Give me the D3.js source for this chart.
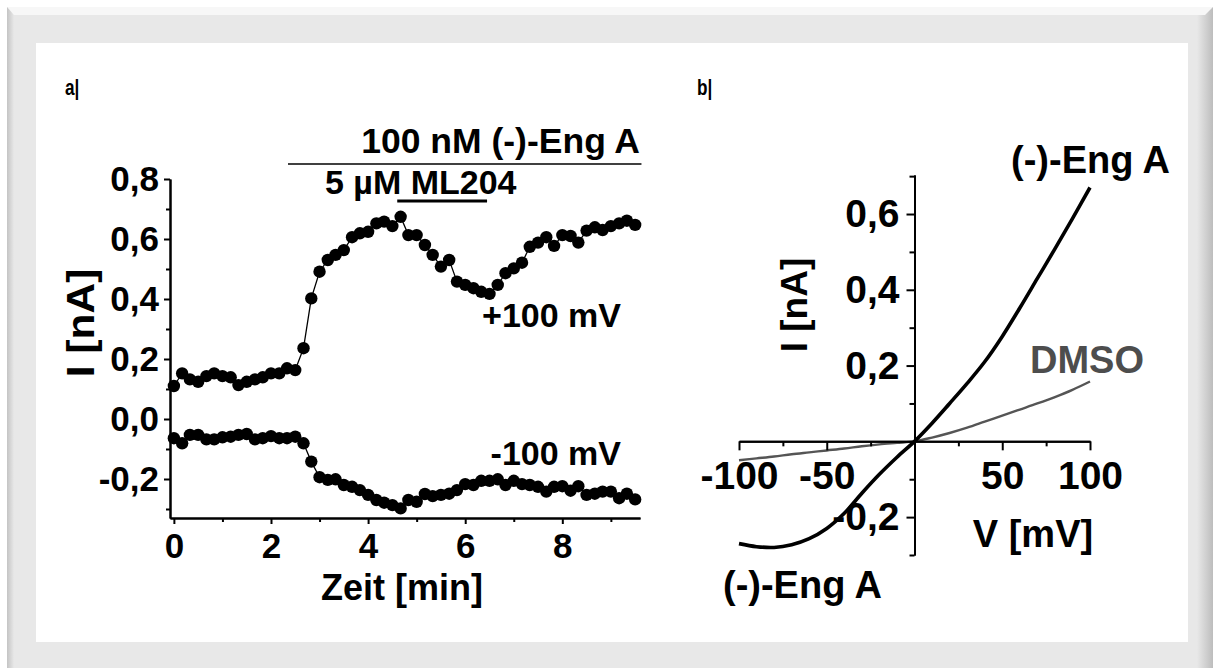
<!DOCTYPE html>
<html>
<head>
<meta charset="utf-8">
<script src="https://cdn.jsdelivr.net/npm/d3@7"></script>
<style>
  html, body { margin: 0; padding: 0; background: #ffffff; }
  svg { display: block; }
  text { font-family: "Liberation Sans", Arial, Helvetica, sans-serif; font-weight: bold; fill: #000; }
</style>
</head>
<body>
<script>
// ---- Panel a: current over time at +100 mV and -100 mV ----
const timeMin = [0, 0.17, 0.33, 0.5, 0.67, 0.83, 1, 1.17, 1.33, 1.5, 1.67, 1.83, 2, 2.17, 2.33, 2.5, 2.67,
  2.83, 3, 3.17, 3.33, 3.5, 3.67, 3.83, 4, 4.17, 4.33, 4.5, 4.67, 4.83, 5, 5.17, 5.33, 5.5, 5.67, 5.83,
  6, 6.17, 6.33, 6.5, 6.67, 6.83, 7, 7.17, 7.33, 7.5, 7.67, 7.83, 8, 8.17, 8.33, 8.5, 8.67, 8.83, 9, 9.17, 9.33, 9.5];
const currentPlus100 = [0.11, 0.152, 0.132, 0.124, 0.143, 0.152, 0.143, 0.139, 0.113, 0.124, 0.132, 0.139, 0.152, 0.152, 0.169, 0.163, 0.236,
  0.402, 0.491, 0.53, 0.547, 0.563, 0.606, 0.619, 0.624, 0.652, 0.658, 0.643, 0.674, 0.613, 0.613, 0.58, 0.547, 0.508, 0.53, 0.458,
  0.447, 0.436, 0.424, 0.417, 0.447, 0.486, 0.502, 0.521, 0.574, 0.588, 0.606, 0.577, 0.613, 0.61, 0.588, 0.628, 0.639, 0.63, 0.643, 0.652, 0.661, 0.647];
const currentMinus100 = [-0.064, -0.081, -0.053, -0.053, -0.068, -0.068, -0.061, -0.059, -0.053, -0.05, -0.068, -0.064, -0.057, -0.064, -0.064, -0.059, -0.081,
  -0.142, -0.194, -0.203, -0.201, -0.22, -0.226, -0.237, -0.253, -0.27, -0.279, -0.287, -0.298, -0.27, -0.276, -0.25, -0.257, -0.253, -0.249, -0.237,
  -0.217, -0.22, -0.206, -0.206, -0.201, -0.22, -0.206, -0.217, -0.22, -0.226, -0.242, -0.226, -0.224, -0.239, -0.224, -0.253, -0.249, -0.242, -0.242, -0.264, -0.249, -0.268];
const engAPeriod = [2.35, 9.63];   // application of 100 nM (-)-Eng A [min]
const ml204Period = [4.6, 6.45];   // application of 5 µM ML204 [min]
const timeTicksMajor = [0, 2, 4, 6, 8];
const timeTicksMinor = [1, 3, 5, 7, 9];
const currentTicksA = [-0.2, 0, 0.2, 0.4, 0.6, 0.8];
const currentTicksAMinor = [-0.3, -0.1, 0.1, 0.3, 0.5, 0.7];

// ---- Panel b: current-voltage relation ----
const voltage = [-100, -90, -80, -70, -60, -50, -40, -30, -20, -10, 0, 10, 20, 30, 40, 50, 60, 70, 80, 90, 100];
const currentEngA = [-0.27, -0.278, -0.28, -0.273, -0.257, -0.23, -0.19, -0.137, -0.087, -0.042, 0, 0.048, 0.1, 0.153, 0.21, 0.277, 0.352, 0.43, 0.508, 0.588, 0.67];
const currentDMSO = [-0.05, -0.045, -0.04, -0.034, -0.029, -0.024, -0.019, -0.013, -0.008, -0.004, 0, 0.01, 0.022, 0.036, 0.052, 0.068, 0.084, 0.1, 0.117, 0.136, 0.158];
const voltTicksMajor = [-100, -50, 50, 100];
const voltTicksMinor = [-75, -25, 0, 25, 75];
const currentTicksB = [-0.2, 0.2, 0.4, 0.6];
const currentTicksBMinor = [-0.3, -0.1, 0.1, 0.3, 0.5, 0.7];

const fmt = d => d3.format(".1f")(d).replace(".", ",").replace("\u2212", "-");

const W = 1213, H = 668;
const svg = d3.select("body").append("svg").attr("width", W).attr("height", H);

// ---- frame ----
const defs = svg.append("defs");
const gl = defs.append("linearGradient").attr("id", "bevelL").attr("x1", 0).attr("x2", 1);
gl.append("stop").attr("offset", 0).attr("stop-color", "#c4c4c4");
gl.append("stop").attr("offset", 1).attr("stop-color", "#e8e8e8");
const gr = defs.append("linearGradient").attr("id", "bevelR").attr("x1", 0).attr("x2", 1);
gr.append("stop").attr("offset", 0).attr("stop-color", "#e8e8e8");
gr.append("stop").attr("offset", 1).attr("stop-color", "#bdbdbd");

svg.append("rect").attr("width", W).attr("height", H).attr("fill", "#ffffff");
svg.append("rect").attr("x", 7).attr("y", 7).attr("width", W - 7).attr("height", H - 7).attr("fill", "#e8e8e8");
svg.append("rect").attr("x", 7).attr("y", 7).attr("width", 7).attr("height", H - 7).attr("fill", "url(#bevelL)");
svg.append("rect").attr("x", 1197).attr("y", 7).attr("width", 16).attr("height", H - 7).attr("fill", "url(#bevelR)");
svg.append("polygon").attr("points", `7,7 ${W},7 1205,15 14,15`).attr("fill", "#f7f7f7");
svg.append("rect").attr("x", 36).attr("y", 43).attr("width", 1152).attr("height", 599).attr("fill", "#ffffff");

// panel letters, drawn narrow
function panelLetter(x, label) {
  svg.append("text").attr("transform", `translate(${x},95) scale(0.78,1)`).attr("font-size", 22).text(label);
}
panelLetter(65, "a|");
panelLetter(697, "b|");

function styleAxis(g, fontSize) {
  g.attr("font-family", null);
  g.selectAll("path.domain").attr("stroke", "#000").attr("stroke-width", 2);
  g.selectAll(".tick line").attr("stroke", "#000").attr("stroke-width", 2);
  g.selectAll("text").attr("font-size", fontSize).attr("fill", "#000");
}

// ================= Panel a =================
const xA = d3.scaleLinear().domain([-0.08, 9.6]).range([170, 640]);
const yA = d3.scaleLinear().domain([-0.33, 0.8]).range([518, 179]);
const gA = svg.append("g");

const lineA = d3.line().x((d, i) => xA(timeMin[i])).y(d => yA(d));
[currentPlus100, currentMinus100].forEach(series => {
  gA.append("path").datum(series).attr("d", lineA)
    .attr("fill", "none").attr("stroke", "#000").attr("stroke-width", 1.3);
  gA.selectAll(null).data(series).enter().append("circle")
    .attr("cx", (d, i) => xA(timeMin[i])).attr("cy", d => yA(d)).attr("r", 6.2).attr("fill", "#000");
});

const yAxA = gA.append("g").attr("transform", `translate(${xA.range()[0]},0)`)
  .call(d3.axisLeft(yA).tickValues(currentTicksA).tickFormat(fmt).tickSize(6).tickSizeOuter(0).tickPadding(5));
styleAxis(yAxA, 35);
gA.append("g").attr("transform", `translate(${xA.range()[0]},0)`)
  .call(d3.axisLeft(yA).tickValues(currentTicksAMinor).tickFormat("").tickSize(4).tickSizeOuter(0))
  .call(g => styleAxis(g, 35));

const xAxA = gA.append("g").attr("transform", `translate(0,${yA.range()[0]})`)
  .call(d3.axisBottom(xA).tickValues(timeTicksMajor).tickFormat(d3.format("d")).tickSize(6).tickSizeOuter(0).tickPadding(9));
styleAxis(xAxA, 35);
gA.append("g").attr("transform", `translate(0,${yA.range()[0]})`)
  .call(d3.axisBottom(xA).tickValues(timeTicksMinor).tickFormat("").tickSize(4).tickSizeOuter(0))
  .call(g => styleAxis(g, 35));

gA.append("text").attr("x", 402).attr("y", 600).attr("text-anchor", "middle").attr("font-size", 36).text("Zeit [min]");
gA.append("text").attr("transform", "translate(94,323) rotate(-90) scale(1.12,1)").attr("text-anchor", "middle").attr("font-size", 38).text("I [nA]");

// drug application bars
gA.append("line").attr("x1", xA(engAPeriod[0])).attr("x2", xA(engAPeriod[1])).attr("y1", 164).attr("y2", 164)
  .attr("stroke", "#000").attr("stroke-width", 1.6);
gA.append("text").attr("x", 640).attr("y", 153).attr("text-anchor", "end").attr("font-size", 35.5).text("100 nM (-)-Eng A");
gA.append("line").attr("x1", xA(ml204Period[0])).attr("x2", xA(ml204Period[1])).attr("y1", 201).attr("y2", 201)
  .attr("stroke", "#000").attr("stroke-width", 3);
gA.append("text").attr("x", 325).attr("y", 194).attr("font-size", 34).text("5 \u00b5M ML204");

gA.append("text").attr("x", 621).attr("y", 327).attr("text-anchor", "end").attr("font-size", 34).text("+100 mV");
gA.append("text").attr("x", 621).attr("y", 465).attr("text-anchor", "end").attr("font-size", 34).text("-100 mV");

// ================= Panel b =================
const xB = d3.scaleLinear().domain([-100, 100]).range([739, 1090]);
const yB = d3.scaleLinear().domain([-0.3, 0.703]).range([555, 175]);
const gB = svg.append("g");

const lineB = d3.line().curve(d3.curveCatmullRom).x((d, i) => xB(voltage[i])).y(d => yB(d));
gB.append("path").datum(currentDMSO).attr("d", lineB)
  .attr("fill", "none").attr("stroke", "#555555").attr("stroke-width", 2.4);
gB.append("path").datum(currentEngA).attr("d", lineB)
  .attr("fill", "none").attr("stroke", "#000").attr("stroke-width", 3.6);

const x0 = xB(0), y0 = yB(0);
const yAxB = gB.append("g").attr("transform", `translate(${x0},0)`)
  .call(d3.axisLeft(yB).tickValues(currentTicksB).tickFormat(fmt).tickSize(8).tickSizeOuter(0).tickPadding(7));
styleAxis(yAxB, 39);
gB.append("g").attr("transform", `translate(${x0},0)`)
  .call(d3.axisLeft(yB).tickValues(currentTicksBMinor).tickFormat("").tickSize(5).tickSizeOuter(0))
  .call(g => styleAxis(g, 39));

const xAxB = gB.append("g").attr("transform", `translate(0,${y0})`)
  .call(d3.axisBottom(xB).tickValues(voltTicksMajor).tickFormat(d => String(d)).tickSize(9).tickSizeOuter(0).tickPadding(11));
styleAxis(xAxB, 39);
gB.append("g").attr("transform", `translate(0,${y0})`)
  .call(d3.axisBottom(xB).tickValues(voltTicksMinor).tickFormat("").tickSize(5).tickSizeOuter(0))
  .call(g => styleAxis(g, 39));

gB.append("text").attr("x", 1033).attr("y", 547).attr("text-anchor", "middle").attr("font-size", 38).text("V [mV]");
gB.append("text").attr("transform", "translate(807,305) rotate(-90)").attr("text-anchor", "middle").attr("font-size", 37).text("I [nA]");

gB.append("text").attr("x", 1170).attr("y", 173).attr("text-anchor", "end").attr("font-size", 38).text("(-)-Eng A");
gB.append("text").attr("x", 1144).attr("y", 373).attr("text-anchor", "end").attr("font-size", 38)
  .style("fill", "#4d4d4d").text("DMSO");
gB.append("text").attr("x", 723).attr("y", 598).attr("font-size", 38).text("(-)-Eng A");
</script>
</body>
</html>
